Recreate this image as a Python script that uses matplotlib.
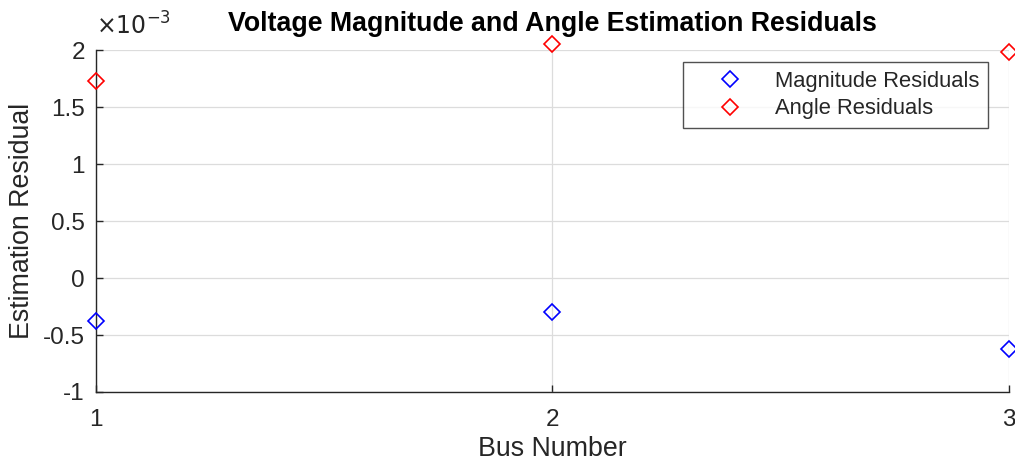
import matplotlib
matplotlib.use("Agg")
import matplotlib.pyplot as plt
import numpy as np

# residuals per bus (units of 1e-3)
buses = [1, 2, 3]
magnitude_residuals = [-0.38, -0.30, -0.62]
angle_residuals = [1.73, 2.05, 1.98]
y_ticks = [-1, -0.5, 0, 0.5, 1, 1.5, 2]
y_tick_labels = ["-1", "-0.5", "0", "0.5", "1", "1.5", "2"]

plt.rcParams['font.family'] = ['Liberation Sans', 'DejaVu Sans']
axis_color = '#262626'

fig = plt.figure(figsize=(10.15, 4.68), dpi=100)
ax = fig.add_axes([0.0946, 0.1624, 0.8994, 0.7306])

ax.plot(buses, magnitude_residuals, linestyle='none', marker='D', markersize=8.5,
        markerfacecolor='none', markeredgecolor='#0000ff', markeredgewidth=1.2,
        clip_on=False, label='Magnitude Residuals', zorder=3)
ax.plot(buses, angle_residuals, linestyle='none', marker='D', markersize=8.5,
        markerfacecolor='none', markeredgecolor='#ff0000', markeredgewidth=1.2,
        clip_on=False, label='Angle Residuals', zorder=3)

ax.set_xlim(1, 3)
ax.set_ylim(-1, 2)
ax.set_xticks(buses)
ax.set_yticks(y_ticks)
ax.set_yticklabels(y_tick_labels)
ax.grid(True, color='#dcdcdc', linewidth=0.9)
ax.set_axisbelow(True)

for side in ['top', 'right']:
    ax.spines[side].set_visible(False)
for side in ['left', 'bottom']:
    ax.spines[side].set_color(axis_color)
    ax.spines[side].set_linewidth(1.0)

ax.tick_params(direction='in', length=5, width=1.0, colors=axis_color,
               labelsize=17.5, pad=8)
ax.tick_params(axis='x', pad=12)

ax.text(0.0, 1.03, r'$\times10^{-3}$', transform=ax.transAxes, fontsize=17,
        color=axis_color, ha='left', va='bottom', family='DejaVu Sans')

ax.set_xlabel('Bus Number', fontsize=19.3, color=axis_color, labelpad=4)
ax.set_ylabel('Estimation Residual', fontsize=19.3, color=axis_color, labelpad=6)
ax.set_title('Voltage Magnitude and Angle Estimation Residuals', fontsize=19.3,
             fontweight='bold', color='black', pad=14)

leg = ax.legend(loc='upper right', bbox_to_anchor=(0.977, 0.965), borderaxespad=0,
                fontsize=15.8, frameon=True, fancybox=False, edgecolor=axis_color,
                borderpad=0.4, handletextpad=0.27, handlelength=3.5, labelspacing=0.3)
leg.get_frame().set_linewidth(1.0)
for t in leg.get_texts():
    t.set_color(axis_color)

fig.savefig('out.png', dpi=100)
